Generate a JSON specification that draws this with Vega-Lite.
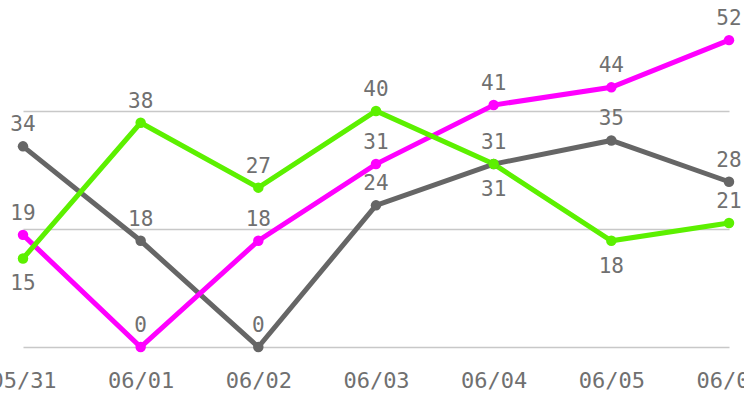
{
  "$schema": "https://vega.github.io/schema/vega-lite/v6.json",
  "width": 744,
  "height": 347,
  "autosize": "none",
  "padding": {"left": 0, "right": 0, "top": 0, "bottom": 48},
  "background": "white",
  "config": {"view": {"stroke": null}, "font": "DejaVu Sans Mono"},
  "data": {
    "values": [
      {"date": "05/31", "series": "gray", "value": 34},
      {"date": "06/01", "series": "gray", "value": 18},
      {"date": "06/02", "series": "gray", "value": 0},
      {"date": "06/03", "series": "gray", "value": 24},
      {"date": "06/04", "series": "gray", "value": 31},
      {"date": "06/05", "series": "gray", "value": 35},
      {"date": "06/06", "series": "gray", "value": 28},
      {"date": "05/31", "series": "magenta", "value": 19},
      {"date": "06/01", "series": "magenta", "value": 0},
      {"date": "06/02", "series": "magenta", "value": 18},
      {"date": "06/03", "series": "magenta", "value": 31},
      {"date": "06/04", "series": "magenta", "value": 41},
      {"date": "06/05", "series": "magenta", "value": 44},
      {"date": "06/06", "series": "magenta", "value": 52},
      {"date": "05/31", "series": "green", "value": 15},
      {"date": "06/01", "series": "green", "value": 38},
      {"date": "06/02", "series": "green", "value": 27},
      {"date": "06/03", "series": "green", "value": 40},
      {"date": "06/04", "series": "green", "value": 31},
      {"date": "06/05", "series": "green", "value": 18},
      {"date": "06/06", "series": "green", "value": 21}
    ]
  },
  "encoding": {
    "x": {
      "field": "date", "type": "ordinal",
      "scale": {"type": "point", "range": [23, 729], "padding": 0},
      "axis": {
        "title": null, "domain": false, "ticks": false, "grid": false,
        "labelAngle": 0, "labelFont": "DejaVu Sans Mono", "labelFontSize": 22,
        "labelColor": "#707070", "labelPadding": 33, "labelBaseline": "middle"
      }
    },
    "y": {
      "field": "value", "type": "quantitative",
      "scale": {"domain": [0, 58.8], "nice": false, "zero": true},
      "axis": {
        "title": null, "domain": false, "ticks": false, "labels": false,
        "values": [0, 20, 40], "grid": true, "gridColor": "#c8c8c8", "gridWidth": 1.5
      }
    },
    "color": {
      "field": "series", "type": "nominal",
      "scale": {"domain": ["gray", "magenta", "green"], "range": ["#666666", "#ff00ff", "#5cf000"]},
      "legend": null
    }
  },
  "layer": [
    {"mark": {"type": "line", "strokeWidth": 5, "clip": false}},
    {"mark": {"type": "point", "filled": true, "size": 110, "opacity": 1, "clip": false}},
    {
      "transform": [{"filter": "!(datum.series == 'green' && indexof(['05/31','06/04','06/05'], datum.date) >= 0)"}],
      "mark": {"type": "text", "baseline": "bottom", "dy": -11, "fontSize": 21, "font": "DejaVu Sans Mono"},
      "encoding": {"text": {"field": "value", "type": "quantitative"}, "color": {"value": "#707070"}}
    },
    {
      "transform": [{"filter": "datum.series == 'green' && indexof(['05/31','06/04','06/05'], datum.date) >= 0"}],
      "mark": {"type": "text", "baseline": "top", "dy": 15, "fontSize": 21, "font": "DejaVu Sans Mono"},
      "encoding": {"text": {"field": "value", "type": "quantitative"}, "color": {"value": "#707070"}}
    }
  ]
}
